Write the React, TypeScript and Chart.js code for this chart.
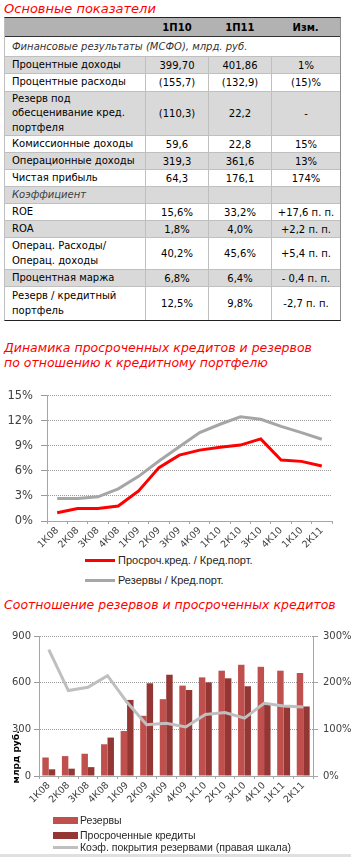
import React, { useEffect, useRef } from "react";
import { Chart, registerables } from "chart.js";
Chart.register(...registerables);

// ---------- Table data ----------
const tableHeader = ["", "1П10", "1П11", "Изм."];
const sectionFinance = "Финансовые результаты (МСФО), млрд. руб.";
const rowNames = [
  "Процентные доходы",
  "Процентные расходы",
  "Резерв под\nобесценивание кред.\nпортфеля",
  "Комиссионные доходы",
  "Операционные доходы",
  "Чистая прибыль",
  "Коэффициент",
  "ROE",
  "ROA",
  "Операц. Расходы/\nОперац. доходы",
  "Процентная маржа",
  "Резерв / кредитный\nпортфель",
];
const values1P10 = ["399,70", "(155,7)", "(110,3)", "59,6", "319,3", "64,3", "", "15,6%", "1,8%", "40,2%", "6,8%", "12,5%"];
const values1P11 = ["401,86", "(132,9)", "22,2", "22,8", "361,6", "176,1", "", "33,2%", "4,0%", "45,6%", "6,4%", "9,8%"];
const valuesChange = ["1%", "(15)%", "-", "15%", "13%", "174%", "", "+17,6 п. п.", "+2,2 п. п.", "+5,4 п. п.", "- 0,4 п. п.", "-2,7 п. п."];
const italicRows = [6];

// ---------- Chart 1 data ----------
const lineQuarters = ["1К08", "2К08", "3К08", "4К08", "1К09", "2К09", "3К09", "4К09", "1К10", "2К10", "3К10", "4К10", "1К10", "2К11"];
const overdueRatio = [1.0, 1.5, 1.5, 1.8, 3.6, 6.4, 7.9, 8.5, 8.85, 9.1, 9.85, 7.3, 7.15, 6.6];
const reserveRatio = [2.7, 2.7, 2.9, 3.85, 5.35, 7.2, 8.9, 10.6, 11.6, 12.5, 12.2, 11.35, 10.6, 9.8];

// ---------- Chart 2 data ----------
const barQuarters = ["1К08", "2К08", "3К08", "4К08", "1К09", "2К09", "3К09", "4К09", "1К10", "2К10", "3К10", "4К10", "1К11", "2К11"];
const reserves = [119, 128, 143, 204, 289, 387, 494, 581, 634, 677, 715, 702, 677, 662];
const overdueLoans = [43, 47, 57, 247, 489, 596, 651, 553, 602, 628, 577, 458, 443, 447];
const coverage = [271, 183, 190, 215, 158, 110, 113, 105, 132, 136, 124, 156, 150, 148];

const RED = "#ff0000";
const GRAY_LINE = "#a6a6a6";
const AXIS = "#a6a6a6";
const TICK_COLOR = "#404040";
const FONT = "DejaVu Sans";

const colWidths = [142, 63, 63, 69];
const rowHeights = [17, 18, 44, 17, 17, 17, 17, 17, 17, 32, 17, 33];

function Table() {
  const cell = (w: number, last: boolean, extra: React.CSSProperties = {}): React.CSSProperties => ({
    width: w,
    boxSizing: "border-box",
    borderRight: last ? "none" : "1px solid #bfbfbf",
    display: "flex",
    alignItems: "center",
    justifyContent: "center",
    height: "100%",
    ...extra,
  });
  return (
    <div
      style={{
        position: "absolute",
        left: 4,
        top: 17,
        width: 337,
        boxSizing: "border-box",
        borderTop: "1px solid #222",
        borderBottom: "1px solid #222",
        borderLeft: "1px solid #bfbfbf",
        borderRight: "1px solid #8c8c8c",
        fontFamily: FONT,
        fontSize: 10,
        color: "#000",
      }}
    >
      <div
        style={{
          height: 19,
          background: "#b2b2b2",
          borderBottom: "1px solid #333",
          boxSizing: "border-box",
          display: "flex",
          fontWeight: "bold",
        }}
      >
        {tableHeader.map((h, i) => (
          <div key={i} style={cell(colWidths[i] - (i === 0 ? 1 : 0), true)}>
            {h}
          </div>
        ))}
      </div>
      <div
        style={{
          height: 20,
          boxSizing: "border-box",
          borderBottom: "1px solid #bfbfbf",
          display: "flex",
          alignItems: "center",
          paddingLeft: 7,
          fontStyle: "italic",
          color: "#333",
        }}
      >
        {sectionFinance}
      </div>
      {rowNames.map((name, r) => {
        const italic = italicRows.includes(r);
        return (
          <div
            key={r}
            style={{
              height: rowHeights[r],
              boxSizing: "border-box",
              borderBottom: r === rowNames.length - 1 ? "none" : "1px solid #bfbfbf",
              background: r % 2 === 0 ? "#d9d9d9" : "#ffffff",
              display: "flex",
            }}
          >
            <div
              style={cell(colWidths[0] - 1, false, {
                justifyContent: "flex-start",
                paddingLeft: 7,
                whiteSpace: "pre-line",
                lineHeight: "14.5px",
                fontStyle: italic ? "italic" : "normal",
                color: italic ? "#404040" : "#000",
              })}
            >
              {name}
            </div>
            <div style={cell(colWidths[1], false)}>{values1P10[r]}</div>
            <div style={cell(colWidths[2], false)}>{values1P11[r]}</div>
            <div style={cell(colWidths[3] - 1, true)}>{valuesChange[r]}</div>
          </div>
        );
      })}
    </div>
  );
}

function LineChart() {
  const ref = useRef<HTMLCanvasElement>(null);
  useEffect(() => {
    const chart = new Chart(ref.current!, {
      type: "line",
      data: {
        labels: lineQuarters,
        datasets: [
          { label: "Просроч.кред. / Кред.порт.", data: overdueRatio, borderColor: RED, backgroundColor: RED, borderWidth: 3, pointRadius: 0, tension: 0, order: 0 },
          { label: "Резервы / Кред.порт.", data: reserveRatio, borderColor: GRAY_LINE, backgroundColor: GRAY_LINE, borderWidth: 3, pointRadius: 0, tension: 0, order: 1 },
        ],
      },
      options: {
        animation: false,
        responsive: false,
        layout: { padding: { top: 10, right: 19, left: 0, bottom: 0 } },
        plugins: { legend: { display: false }, tooltip: { enabled: false } },
        scales: {
          x: {
            offset: true,
            grid: { drawOnChartArea: false, drawTicks: true, tickLength: 3, color: AXIS, offset: true },
            border: { color: AXIS, width: 1 },
            ticks: { autoSkip: false, minRotation: 45, maxRotation: 45, padding: 1, color: TICK_COLOR, font: { family: FONT, size: 9.5 } },
            afterFit: (s: any) => { s.height = 30; },
          },
          y: {
            min: 0,
            max: 15,
            ticks: { stepSize: 3, padding: 8, color: TICK_COLOR, font: { family: FONT, size: 11.5 }, callback: (v: any) => v + "%" },
            grid: { color: "#9a9a9a", drawTicks: true, tickLength: 6 },
            border: { color: AXIS, width: 1, dash: [1, 1] },
            afterFit: (s: any) => { s.width = 47; },
          },
        },
      },
    });
    return () => chart.destroy();
  }, []);
  return <canvas ref={ref} width={351} height={170} style={{ position: "absolute", left: 0, top: 381, width: 351, height: 170 }} />;
}

function BarChart() {
  const ref = useRef<HTMLCanvasElement>(null);
  useEffect(() => {
    const chart = new Chart(ref.current!, {
      type: "bar",
      data: {
        labels: barQuarters,
        datasets: [
          { type: "line", label: "Коэф. покрытия резервами (правая шкала)", data: coverage, yAxisID: "y1", borderColor: "#bfbfbf", backgroundColor: "#bfbfbf", borderWidth: 3, pointRadius: 0, tension: 0, order: 0 } as any,
          { type: "bar", label: "Резервы", data: reserves, yAxisID: "y", backgroundColor: "#c0504d", categoryPercentage: 0.66, barPercentage: 1.0, order: 1 },
          { type: "bar", label: "Просроченные кредиты", data: overdueLoans, yAxisID: "y", backgroundColor: "#943634", categoryPercentage: 0.66, barPercentage: 1.0, order: 2 },
        ],
      },
      options: {
        animation: false,
        responsive: false,
        layout: { padding: { top: 10, right: 0, left: 0, bottom: 0 } },
        plugins: { legend: { display: false }, tooltip: { enabled: false } },
        scales: {
          x: {
            offset: true,
            grid: { drawOnChartArea: false, drawTicks: true, tickLength: 3, color: AXIS, offset: true },
            border: { color: AXIS, width: 1 },
            ticks: { autoSkip: false, minRotation: 45, maxRotation: 45, padding: 1, color: TICK_COLOR, font: { family: FONT, size: 9.5 } },
            afterFit: (s: any) => { s.height = 32; },
          },
          y: {
            position: "left",
            min: 0,
            max: 900,
            ticks: { stepSize: 300, padding: 3, color: TICK_COLOR, font: { family: FONT, size: 10 } },
            grid: { color: "#9a9a9a", drawTicks: true, tickLength: 5 },
            border: { color: AXIS, width: 1, dash: [1, 1] },
            afterFit: (s: any) => { s.width = 39; },
          },
          y1: {
            position: "right",
            min: 0,
            max: 300,
            ticks: { stepSize: 100, padding: 5, color: TICK_COLOR, font: { family: FONT, size: 10 }, callback: (v: any) => v + "%" },
            grid: { drawOnChartArea: false, drawTicks: true, tickLength: 5, color: AXIS },
            border: { color: AXIS, width: 1 },
            afterFit: (s: any) => { s.width = 38; },
          },
        },
      },
    });
    return () => chart.destroy();
  }, []);
  return <canvas ref={ref} width={351} height={183} style={{ position: "absolute", left: 0, top: 625, width: 351, height: 183 }} />;
}

const titleStyle: React.CSSProperties = {
  position: "absolute",
  left: 4,
  color: RED,
  fontStyle: "italic",
  fontFamily: FONT,
  fontSize: 12.5,
  whiteSpace: "nowrap",
  lineHeight: "15px",
};

const legendText: React.CSSProperties = {
  position: "absolute",
  fontFamily: "Liberation Sans",
  color: "#262626",
  whiteSpace: "nowrap",
};

export default function App() {
  return (
    <div style={{ position: "absolute", left: 0, top: 0, width: 351, height: 857, background: "#fff", overflow: "hidden" }}>
      <div style={{ ...titleStyle, top: 1, fontSize: 13 }}>Основные показатели</div>
      <Table />

      <div style={{ ...titleStyle, top: 340 }}>
        Динамика просроченных кредитов и резервов
        <br />
        по отношению к кредитному портфелю
      </div>
      <LineChart />
      <div style={{ position: "absolute", left: 85, top: 559, width: 30, height: 3, background: RED }} />
      <div style={{ ...legendText, left: 118, top: 553, fontSize: 11, lineHeight: "14px" }}>Просроч.кред. / Кред.порт.</div>
      <div style={{ position: "absolute", left: 85, top: 579, width: 30, height: 3, background: GRAY_LINE }} />
      <div style={{ ...legendText, left: 118, top: 573, fontSize: 11, lineHeight: "14px" }}>Резервы / Кред.порт.</div>

      <div style={{ ...titleStyle, top: 597 }}>Соотношение резервов и просроченных кредитов</div>
      <BarChart />
      <div
        style={{
          position: "absolute",
          left: 16,
          top: 757,
          transform: "translate(-50%, -50%) rotate(-90deg)",
          fontFamily: FONT,
          fontWeight: "bold",
          fontSize: 9,
          color: "#000",
          whiteSpace: "nowrap",
        }}
      >
        млрд руб.
      </div>
      <div style={{ position: "absolute", left: 53, top: 817, width: 25, height: 7, background: "#c0504d" }} />
      <div style={{ ...legendText, left: 80, top: 813, fontSize: 10.5, lineHeight: "14px" }}>Резервы</div>
      <div style={{ position: "absolute", left: 53, top: 832, width: 25, height: 7, background: "#943634" }} />
      <div style={{ ...legendText, left: 80, top: 828, fontSize: 10.5, lineHeight: "14px" }}>Просроченные кредиты</div>
      <div style={{ position: "absolute", left: 53, top: 846, width: 25, height: 3, background: "#bfbfbf" }} />
      <div style={{ ...legendText, left: 80, top: 840, fontSize: 10.5, lineHeight: "14px" }}>Коэф. покрытия резервами (правая шкала)</div>
      <div style={{ position: "absolute", left: 0, top: 854, width: 351, height: 3, background: "#e0e0e0" }} />
    </div>
  );
}
